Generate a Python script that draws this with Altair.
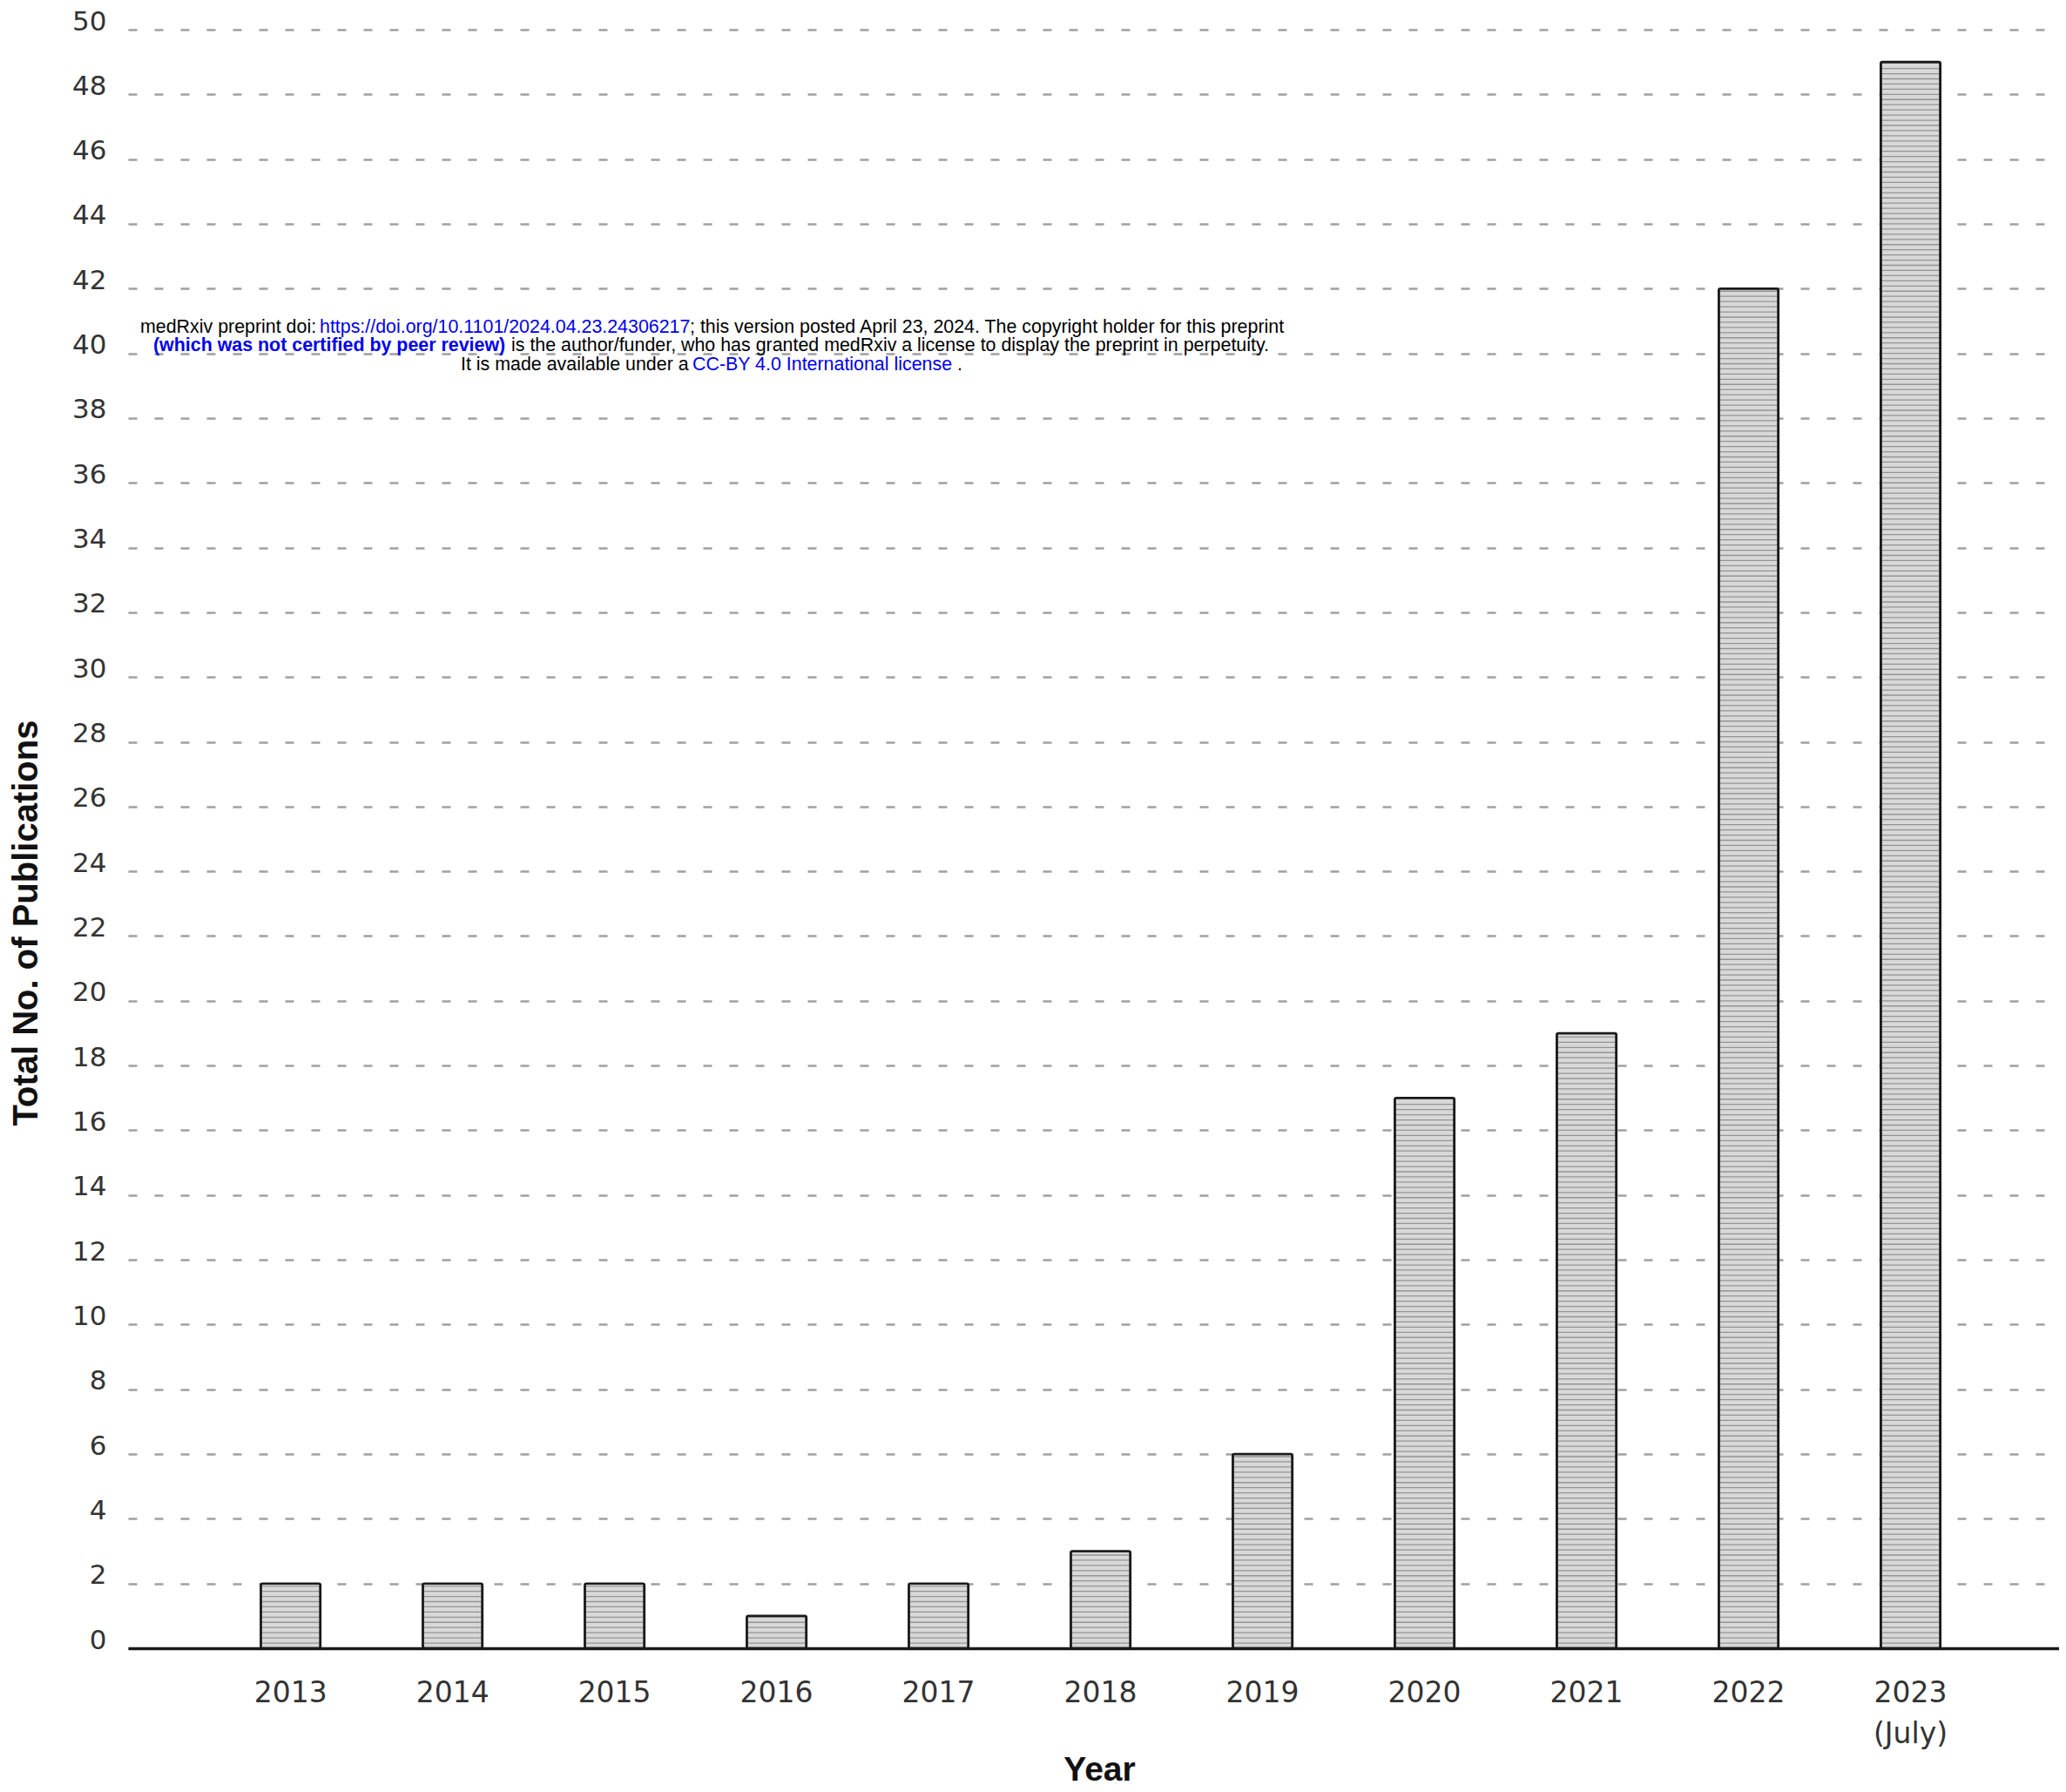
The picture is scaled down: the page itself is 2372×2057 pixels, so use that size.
import altair as alt
import pandas as pd

# ---- data ----
years = ["2013", "2014", "2015", "2016", "2017", "2018", "2019", "2020", "2021", "2022", "2023 (July)"]
counts = [2, 2, 2, 1, 2, 3, 6, 17, 19, 42, 49]
y_ticks = list(range(0, 51, 2))

# watermark text (medRxiv banner)
wm_text = [
    "medRxiv preprint doi: ",
    "https://doi.org/10.1101/2024.04.23.24306217",
    "; this version posted April 23, 2024. The copyright holder for this preprint",
    "(which was not certified by peer review)",
    "is the author/funder, who has granted medRxiv a license to display the preprint in perpetuity.",
    "It is made available under a ",
    "CC-BY 4.0 International license",
    ".",
]
wm_color = ["black", "#0000ee", "black", "#0000ee", "black", "black", "#0000ee", "black"]
wm_weight = ["normal", "normal", "normal", "bold", "normal", "normal", "normal", "normal"]
# layout (pixel offsets inside plot area) for the banner segments
wm_x = [14, 220, 645, 29, 440, 382, 648, 952]
wm_line = [0, 0, 0, 1, 1, 2, 2, 2]
line_y = [348, 369, 391]

df = pd.DataFrame({"Year": years, "Count": counts})
one = pd.DataFrame({"k": [0]})

W, H = 2217, 1858

xscale = alt.Scale(domain=years, paddingInner=0.632, paddingOuter=0.776, align=0.528)
yscale = alt.Scale(domain=[0, 50], nice=False)

x_enc = alt.X(
    "Year:N", scale=xscale, sort=None,
    axis=alt.Axis(
        title="Year", labelAngle=0, ticks=False, grid=False,
        domainColor="#1a1a1a", domainWidth=3.5,
        labelFont="DejaVu Sans", labelFontSize=33, labelColor="#333333",
        labelPadding=35, labelBaseline="top",
        labelExpr="split(datum.label, ' ')", labelLineHeight=47,
        titleFont="Liberation Sans", titleFontSize=39, titleFontWeight="bold",
        titleColor="#111111", titleX=1115, titleY=151, titleBaseline="alphabetic",
        titleAlign="center", titleAnchor="middle",
    ),
)
y_enc = alt.Y(
    "Count:Q", scale=yscale,
    axis=alt.Axis(
        title="Total No. of Publications", values=y_ticks, ticks=False, domain=False,
        grid=True, gridDash=[10, 20], gridColor="#a0a0a0", gridWidth=2.6,
        labelFont="DejaVu Sans", labelFontSize=31, labelColor="#333333",
        labelPadding=25, labelBaseline="alphabetic",
        titleFont="Liberation Sans", titleFontSize=40, titleFontWeight="bold",
        titleColor="#111111", titleAngle=270, titleX=-117, titleY=1025,
        titleBaseline="middle", titleAlign="center",
    ),
)

bars_fill = alt.Chart(df).mark_bar(color="#d8d8d8", cornerRadius=2).encode(x=x_enc, y=y_enc)

stripes = (
    alt.Chart(df)
    .transform_calculate(levels="sequence(0.16, datum.Count - 0.05, 0.16)")
    .transform_flatten(["levels"])
    .mark_tick(color="#777777", thickness=1.3, size=66)
    .encode(x=alt.X("Year:N", scale=xscale, sort=None), y=alt.Y("levels:Q", scale=yscale))
)

bars_outline = alt.Chart(df).mark_bar(
    fillOpacity=0, stroke="#1a1a1a", strokeWidth=2.6, cornerRadius=2
).encode(x=alt.X("Year:N", scale=xscale, sort=None), y=alt.Y("Count:Q", scale=yscale))

layers = [bars_fill, stripes, bars_outline]
for i, t in enumerate(wm_text):
    layers.append(
        alt.Chart(one).mark_text(
            text=t, font="Liberation Sans", fontSize=21.4, fontWeight=wm_weight[i],
            color=wm_color[i], align="left", baseline="alphabetic",
        ).encode(x=alt.value(wm_x[i]), y=alt.value(line_y[wm_line[i]]))
    )

chart = alt.layer(*layers).properties(
    width=W, height=H,
    autosize=alt.AutoSizeParams(type="none"),
    padding={"left": 139, "top": 26, "right": 0, "bottom": 154},
    background="white",
).configure_view(stroke=None)

chart.save("out.html", embed_options={"renderer": "svg", "actions": False})
